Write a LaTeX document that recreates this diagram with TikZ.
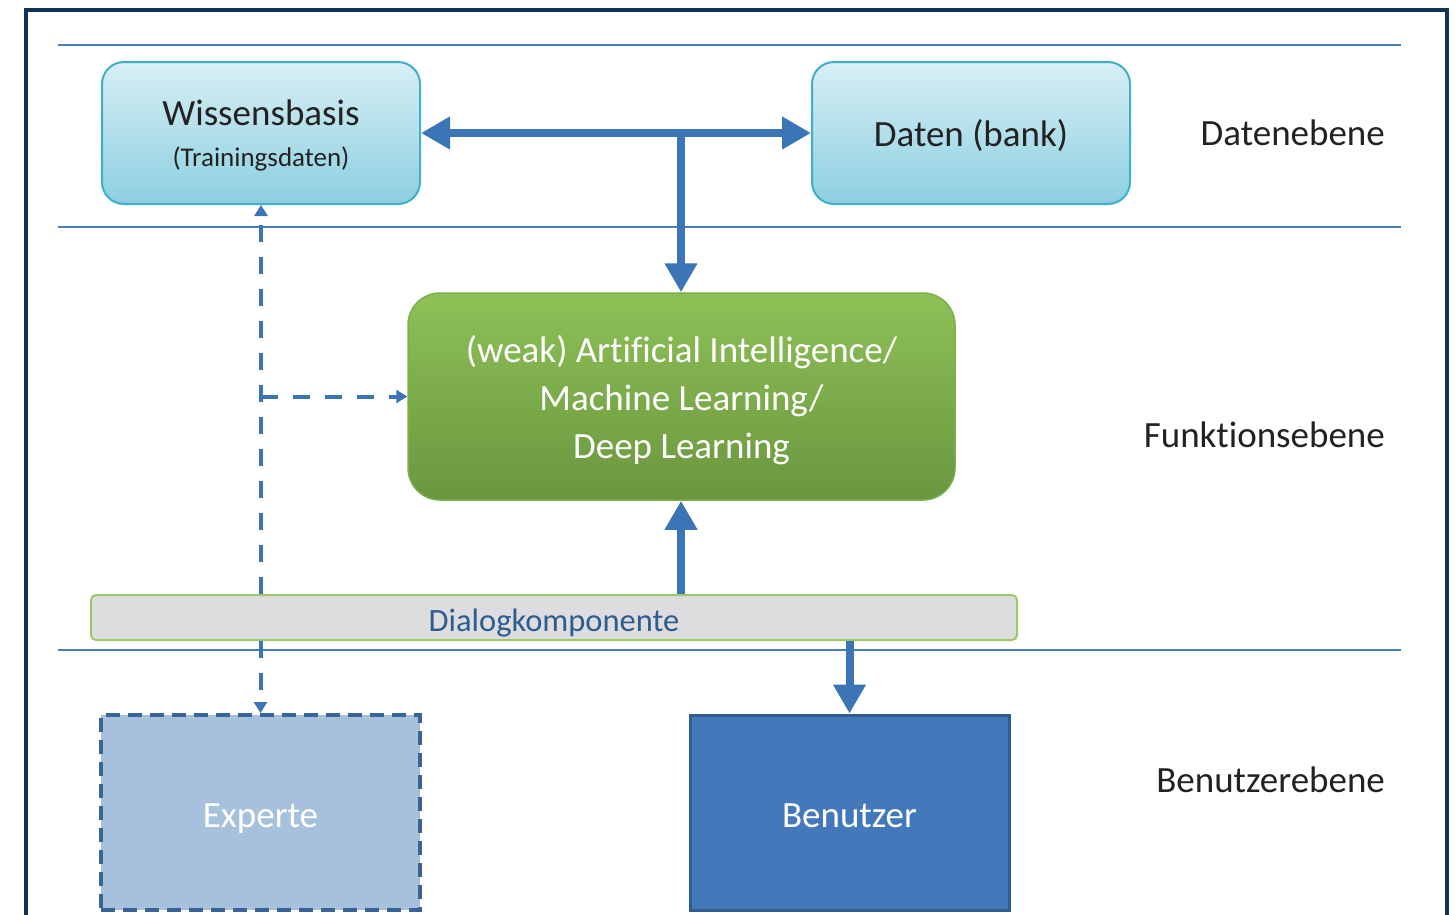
\documentclass[tikz,border=0pt]{standalone}
\usepackage{fontspec}
\setmainfont{Carlito}[Ligatures={NoCommon}]
\usetikzlibrary{arrows.meta,positioning,calc}
\definecolor{framec}{HTML}{0F3457}
\definecolor{rulec}{HTML}{4A7EBB}
\definecolor{arrc}{HTML}{3B75B5}
\definecolor{cyantop}{HTML}{D8EFF5}
\definecolor{cyanbot}{HTML}{8CCFE1}
\definecolor{cyanbd}{HTML}{3FB0C9}
\definecolor{greentop}{HTML}{8DC157}
\definecolor{greenbot}{HTML}{6B963F}
\definecolor{greenbd}{HTML}{7DAE4E}
\definecolor{dkfill}{HTML}{DDDDDF}
\definecolor{dkbd}{HTML}{9CC76A}
\definecolor{dktext}{HTML}{2D5C8F}
\definecolor{exfill}{HTML}{A7C1DC}
\definecolor{exbd}{HTML}{386595}
\definecolor{bnfill}{HTML}{4379BA}
\definecolor{bnbd}{HTML}{2F5D8F}
\definecolor{labc}{HTML}{222222}
\tikzset{
  x=1pt, y=-1pt,
  layerrule/.style={rulec, line width=2.5pt},
  databox/.style={draw=cyanbd, line width=2pt, rounded corners=22pt,
    top color=cyantop, bottom color=cyanbot, minimum width=318pt,
    minimum height=142pt, inner sep=0pt, text=labc, align=center},
  aibox/.style={draw=greenbd, line width=1.5pt, rounded corners=32pt,
    top color=greentop, bottom color=greenbot, minimum width=547pt,
    minimum height=207pt, inner sep=0pt, text=white, align=center,
    text depth=-2pt, font=\fontsize{37}{48}\selectfont},
  dkbar/.style={draw=dkbd, line width=2pt, rounded corners=5pt, fill=dkfill,
    minimum width=926pt, minimum height=45pt, inner sep=0pt, text=dktext,
    text height=27pt, text depth=0pt, font=\fontsize{32.5}{36}\selectfont},
  userbox/.style={minimum width=319pt, minimum height=195pt, inner sep=0pt,
    text=white, text height=29pt, text depth=0pt,
    font=\fontsize{37}{40}\selectfont},
  levellabel/.style={anchor=east, text=labc, inner sep=0pt,
    font=\fontsize{37}{40}\selectfont},
  thickarrow/.style={arrc, line width=8pt,
    -{Triangle[length=29pt,width=31pt]}},
  dasharrow/.style={arrc, line width=4pt, dash pattern=on 17pt off 15pt,
    -{Triangle[length=11pt,width=13pt]}},
}
\begin{document}
\begin{tikzpicture}
\useasboundingbox (0,0) rectangle (1455,914);
\fill[white] (0,0) rectangle (1455,914);
\draw[framec, line width=4pt] (26,10) rectangle (1447,940);

% layer rules
\draw[layerrule] (58,45) -- (1401,45);
\draw[layerrule] (58,227) -- (1401,227);
\draw[layerrule] (58,650) -- (1401,650);

% nodes
\node[databox, font=\fontsize{37}{41}\selectfont, text depth=-1pt] (wb) at (261,133)
  {Wissensbasis\\{\fontsize{27}{41}\selectfont (Trainingsdaten)}};
\node[databox, font=\fontsize{37}{40}\selectfont, text height=26pt, text depth=0pt] (db) at (971,133) {Daten (bank)};
\node[aibox] (ai) at (681.5,396.5)
  {(weak) Artificial Intelligence/\\Machine Learning/\\Deep Learning};
\node[dkbar] (dk) at (554,617.5) {Dialogkomponente};
\node[userbox, fill=exfill, draw=exbd, line width=4pt,
  dash pattern=on 14pt off 8pt] (ex) at (260.5,812.5) {Experte};
\node[userbox, fill=bnfill, draw=bnbd, line width=3pt] (bn) at (849.5,812.5) {Benutzer};

% level labels
\node[levellabel] (l1) at (1385,133) {Datenebene};
\node[levellabel] (l2) at (1385,435) {Funktionsebene};
\node[levellabel] (l3) at (1385,780) {Benutzerebene};

% solid connectors
\coordinate (J) at (681,133);
\draw[thickarrow] (J) -- (wb.east);
\draw[thickarrow] (J) -- (db.west);
\draw[thickarrow] ([yshift=4pt]J) -- (J |- ai.north);
\draw[thickarrow] (J |- dk.north) -- (J |- ai.south);
\draw[thickarrow] (dk.south -| bn.north) -- (bn.north);

% dashed connectors
\draw[dasharrow] (dk.north -| wb.south) -- (wb.south);
\draw[dasharrow] (wb.south |- ai.west) -- (ai.west);
\draw[dasharrow] (dk.south -| ex.north) -- (ex.north);
\end{tikzpicture}
\end{document}
